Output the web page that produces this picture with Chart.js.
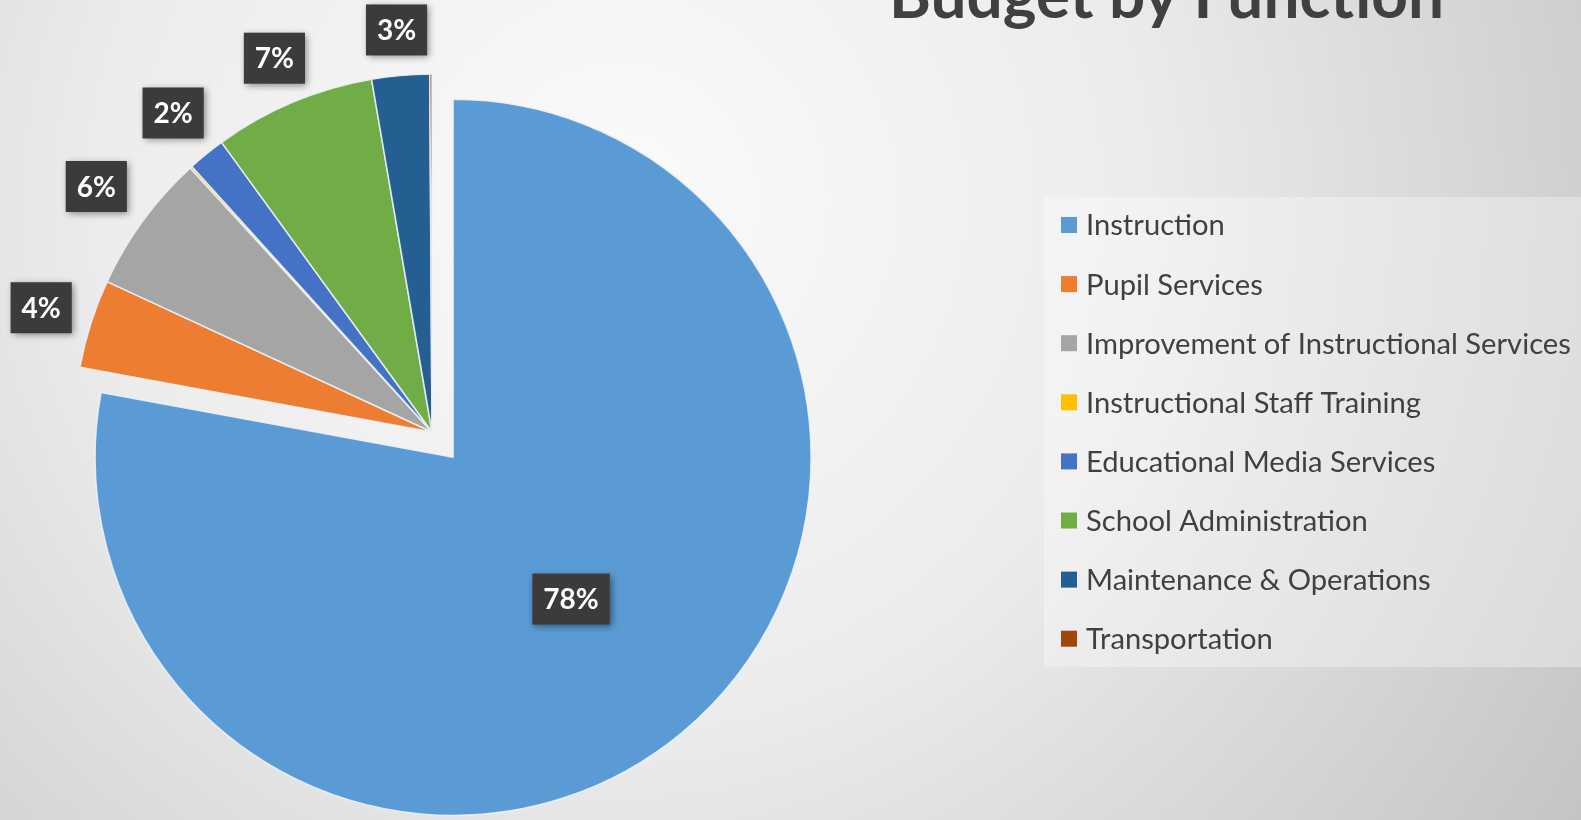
<!DOCTYPE html>
<html><head><meta charset="utf-8">
<script src="https://cdn.jsdelivr.net/npm/chart.js@4.4.1/dist/chart.umd.min.js"></script>
<style>
html,body{margin:0;padding:0;width:1581px;height:820px;overflow:hidden;
background: radial-gradient(circle 1150px at 620px 200px, #fbfbfb 0%, #ececec 45%, #c4c4c4 100%);}
#wrap{position:absolute;left:0;top:0;width:1581px;height:820px;}
canvas{display:block;}
</style></head><body>
<div id="wrap"><canvas id="c" width="1581" height="820" style="width:1581px;height:820px"></canvas></div>
<script>
const chartTitle = 'Budget by Function';
const categories = ['Instruction','Pupil Services','Improvement of Instructional Services','Instructional Staff Training','Educational Media Services','School Administration','Maintenance & Operations','Transportation'];
const values = [77.9, 4.0, 6.3, 0.1, 1.7, 7.3, 2.6, 0.1];
const colors = ['#5B9BD5','#ED7D31','#A5A5A5','#FFC000','#4472C4','#70AD47','#255E91','#9E480E'];

// shift exploded slices outward along their mid-angle (like Excel's point explosion)
const explodePlugin = {
  id: 'explode',
  afterDatasetUpdate(chart, args, opts) {
    const meta = args.meta;
    meta.data.forEach((arc, i) => {
      const d = (opts.distances && opts.distances[i]) || 0;
      if (!d) return;
      const mid = (arc.startAngle + arc.endAngle) / 2;
      arc.x += Math.cos(mid) * d;
      arc.y += Math.sin(mid) * d;
    });
  }
};

const decorPlugin = {
  id: 'decor',
  beforeDatasetsDraw(chart) {
    const ctx = chart.ctx;
    ctx.save();
    // legend panel
    ctx.fillStyle = 'rgba(255,255,255,0.32)';
    ctx.fillRect(1044, 197, 537, 470);
    // title
    let fs = 50;
    ctx.font = 'bold ' + fs + 'px Lato';
    fs = fs * 555 / ctx.measureText(chartTitle).width;
    ctx.font = 'bold ' + fs + 'px Lato';
    ctx.fillStyle = '#404040';
    ctx.textBaseline = 'alphabetic';
    ctx.textAlign = 'left';
    ctx.fillText(chartTitle, 889, 18);
    // legend
    let lf = 27;
    ctx.font = lf + 'px Lato';
    lf = lf * 485 / ctx.measureText(categories[2]).width;
    ctx.font = lf + 'px Lato';
    ctx.textBaseline = 'middle';
    categories.forEach((c, i) => {
      const y = 225 + i * 59.1;
      ctx.fillStyle = colors[i];
      ctx.fillRect(1061, y - 8, 16, 16);
      ctx.fillStyle = '#404040';
      ctx.fillText(c, 1086, y + 1);
    });
    ctx.restore();
  },
  afterDatasetsDraw(chart) {
    const ctx = chart.ctx;
    const meta = chart.getDatasetMeta(0);
    const total = values.reduce((a, b) => a + b, 0);
    const gap = 20;
    ctx.save();
    ctx.font = 'bold 28px Lato';
    ctx.textAlign = 'center';
    ctx.textBaseline = 'middle';
    meta.data.forEach((arc, i) => {
      const pct = Math.round(values[i] / total * 100);
      if (pct <= 0) return;
      const txt = pct + '%';
      const w = ctx.measureText(txt).width + 22;
      const h = 51;
      const mid = (arc.startAngle + arc.endAngle) / 2;
      const c = Math.cos(mid), s = Math.sin(mid);
      let r;
      if (pct > 20) {
        r = arc.outerRadius * 0.515;
      } else {
        const ext = Math.min(Math.abs(c) > 1e-6 ? (w / 2) / Math.abs(c) : 1e9,
                             Math.abs(s) > 1e-6 ? (h / 2) / Math.abs(s) : 1e9);
        r = arc.outerRadius + gap + ext;
      }
      const x = arc.x + c * r;
      const y = arc.y + s * r;
      ctx.save();
      ctx.shadowColor = 'rgba(0,0,0,0.45)';
      ctx.shadowBlur = 7;
      ctx.shadowOffsetX = 2;
      ctx.shadowOffsetY = 2;
      ctx.fillStyle = '#3b3b3b';
      ctx.fillRect(x - w / 2, y - h / 2, w, h);
      ctx.restore();
      ctx.fillStyle = '#ffffff';
      ctx.fillText(txt, x, y + 1);
    });
    ctx.restore();
  }
};

new Chart(document.getElementById('c'), {
  type: 'pie',
  data: {
    labels: categories,
    datasets: [{
      data: values,
      backgroundColor: colors,
      borderColor: 'rgba(236,241,246,0.9)',
      borderWidth: 1.5,
      clip: false
    }]
  },
  options: {
    responsive: false,
    animation: false,
    events: [],
    radius: 358,
    layout: { padding: { left: 44, top: 44, right: 761, bottom: 0 } },
    plugins: {
      legend: { display: false },
      tooltip: { enabled: false },
      title: { display: false },
      explode: { distances: [33, 0, 0, 0, 0, 0, 0, 0] }
    }
  },
  plugins: [explodePlugin, decorPlugin]
});
</script>
</body></html>
